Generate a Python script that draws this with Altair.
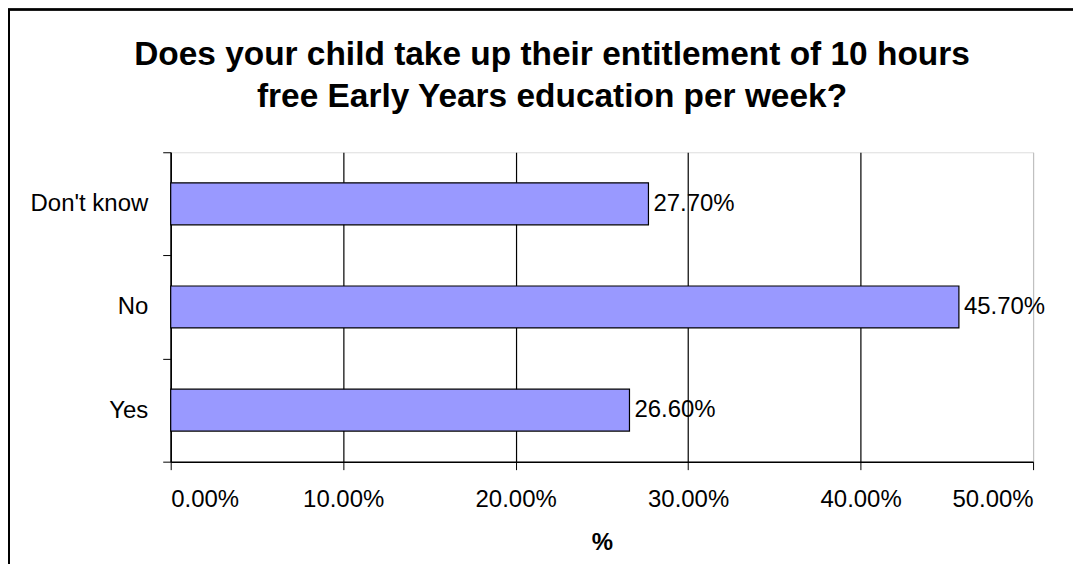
import altair as alt
import pandas as pd

categories = ["Don't know", "No", "Yes"]
values = [0.277, 0.457, 0.266]
x_ticks = [0.0, 0.1, 0.2, 0.3, 0.4, 0.5]
title_lines = ["Does your child take up their entitlement of 10 hours",
               "free Early Years education per week?"]
x_title = "%"

df = pd.DataFrame({"answer": categories, "share": values})

FONT = "Liberation Sans"
W, H = 864, 310

x_enc = alt.X(
    "share:Q",
    scale=alt.Scale(domain=[0, 0.5], nice=False, zero=True),
    axis=alt.Axis(
        values=x_ticks, format=".2%", title=x_title,
        labelFontSize=24, labelFont=FONT, labelColor="black", labelPadding=18,
        tickSize=8, tickColor="black", domainColor="black", domainWidth=1.5,
        grid=True,
        gridColor={"condition": {"test": "datum.value >= 0.5", "value": "#c0c0c0"}, "value": "black"},
        gridWidth=1.2, gridOpacity=1,
        titleFontSize=24, titleFont=FONT, titleFontWeight="bold", titleColor="black",
        titleBaseline="alphabetic", titleY=88,
    ),
)
y_enc = alt.Y(
    "answer:N", sort=categories,
    scale=alt.Scale(paddingInner=0, paddingOuter=0),
    axis=alt.Axis(
        title=None, labelFontSize=24, labelFont=FONT, labelColor="black",
        labelPadding=15, tickSize=8, tickColor="black", tickBand="extent",
        domainColor="black", domainWidth=1.5, grid=False, gridOpacity=0,
    ),
)

bars = alt.Chart(df).mark_bar(size=42, color="#9999FF", stroke="black", strokeWidth=1.2).encode(
    x=x_enc, y=y_enc
)
labels = alt.Chart(df).mark_text(
    align="left", baseline="middle", dx=5, fontSize=24, font=FONT, color="black"
).encode(
    x="share:Q", y=alt.Y("answer:N", sort=categories), text=alt.Text("share:Q", format=".2%")
)
border_left = alt.Chart(df).mark_rule(color="black", strokeWidth=2).encode(
    x=alt.value(-162), y=alt.value(-143), y2=alt.value(420)
)
border_top = alt.Chart(df).mark_rule(color="black", strokeWidth=2).encode(
    x=alt.value(-163), x2=alt.value(950), y=alt.value(-143)
)

chart = alt.layer(bars, labels, border_left, border_top).properties(
    width=W, height=H,
    title=alt.TitleParams(
        text=title_lines, fontSize=33.5, font=FONT, fontWeight="bold", color="black",
        anchor="middle", baseline="alphabetic", dx=-50, dy=172, lineHeight=42, offset=40,
    ),
    padding={"left": 163, "top": 144, "right": 40, "bottom": 102},
    autosize=alt.AutoSizeParams(type="none"),
).configure_view(stroke="transparent", strokeWidth=0, fill="white").configure(background="white")

chart.save("out.html", embed_options={"renderer": "svg", "actions": False})
